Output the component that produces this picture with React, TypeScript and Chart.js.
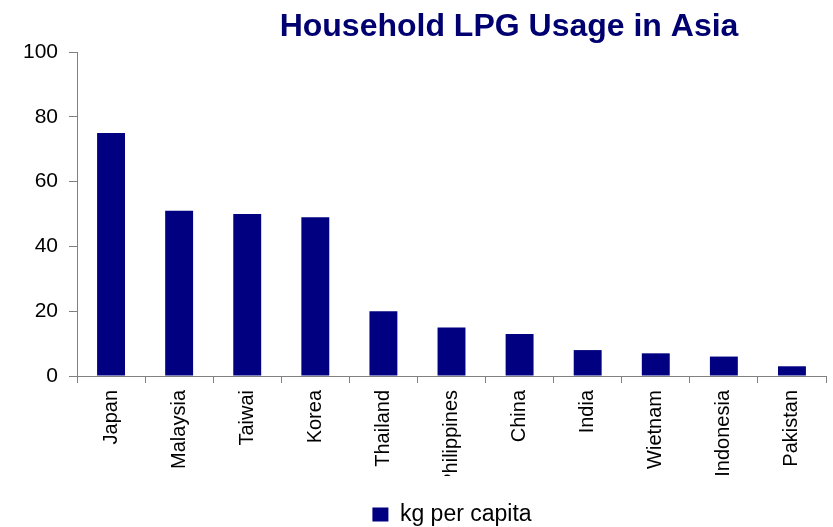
import React, { useEffect, useRef } from "react";
import { Chart, registerables } from "chart.js";

Chart.register(...registerables);

const categories = ["Japan", "Malaysia", "Taiwai", "Korea", "Thailand", "Philippines", "China", "India", "Wietnam", "Indonesia", "Pakistan"];
const kgPerCapita = [75, 51, 50, 49, 20, 15, 13, 8, 7, 6, 3];
const titleText = "Household LPG Usage in Asia";
const seriesLabel = "kg per capita";

const FONT = "'Liberation Sans', Arial, sans-serif";

const titlePlugin = {
  id: "customTitle",
  afterLayout(chart: any) {
    const lg = chart.legend;
    if (lg) {
      lg.top += 25;
      lg.bottom += 25;
      lg.left += 34;
      lg.right += 34;
    }
  },
  afterDraw(chart: any) {
    const ctx = chart.ctx;
    ctx.save();
    ctx.font = "bold 32px " + FONT;
    ctx.fillStyle = "#000070";
    ctx.textAlign = "center";
    ctx.textBaseline = "alphabetic";
    ctx.fillText(titleText, 509, 36);
    ctx.restore();
  },
};

export default function App() {
  const ref = useRef<HTMLCanvasElement | null>(null);
  useEffect(() => {
    if (!ref.current) return;
    const chart = new Chart(ref.current, {
      type: "bar",
      data: {
        labels: categories,
        datasets: [
          {
            label: seriesLabel,
            data: kgPerCapita,
            backgroundColor: "#000080",
            borderWidth: 0,
            barPercentage: 0.41,
            categoryPercentage: 1,
          },
        ],
      },
      plugins: [titlePlugin],
      options: {
        animation: false,
        responsive: true,
        maintainAspectRatio: false,
        layout: { padding: { left: 10, right: 7, top: 52, bottom: 16 } },
        plugins: {
          title: { display: false },
          tooltip: { enabled: false },
          legend: {
            display: true,
            position: "bottom",
            labels: {
              boxWidth: 16,
              boxHeight: 14,
              padding: 2,
              color: "#000000",
              font: { family: FONT, size: 23 },
            },
          },
        },
        scales: {
          x: {
            grid: {
              display: true,
              drawOnChartArea: false,
              drawTicks: true,
              tickLength: 7,
              color: "#808080",
              offset: true,
            },
            border: { color: "#808080", width: 1 },
            ticks: {
              maxRotation: 90,
              minRotation: 90,
              autoSkip: false,
              padding: 7,
              color: "#000000",
              font: { family: FONT, size: 20 },
            },
            afterFit(scale: any) {
              scale.height = 100;
            },
          },
          y: {
            min: 0,
            max: 100,
            ticks: {
              stepSize: 20,
              padding: 11,
              color: "#000000",
              font: { family: FONT, size: 21 },
            },
            grid: {
              display: true,
              drawOnChartArea: false,
              drawTicks: true,
              tickLength: 8,
              color: "#808080",
            },
            border: { color: "#808080", width: 1 },
            afterFit(scale: any) {
              scale.width = 67;
            },
          },
        },
      },
    });
    return () => chart.destroy();
  }, []);
  return (
    <div style={{ position: "fixed", left: 0, top: 0, width: 833, height: 527, background: "#ffffff" }}>
      <canvas ref={ref} />
    </div>
  );
}
